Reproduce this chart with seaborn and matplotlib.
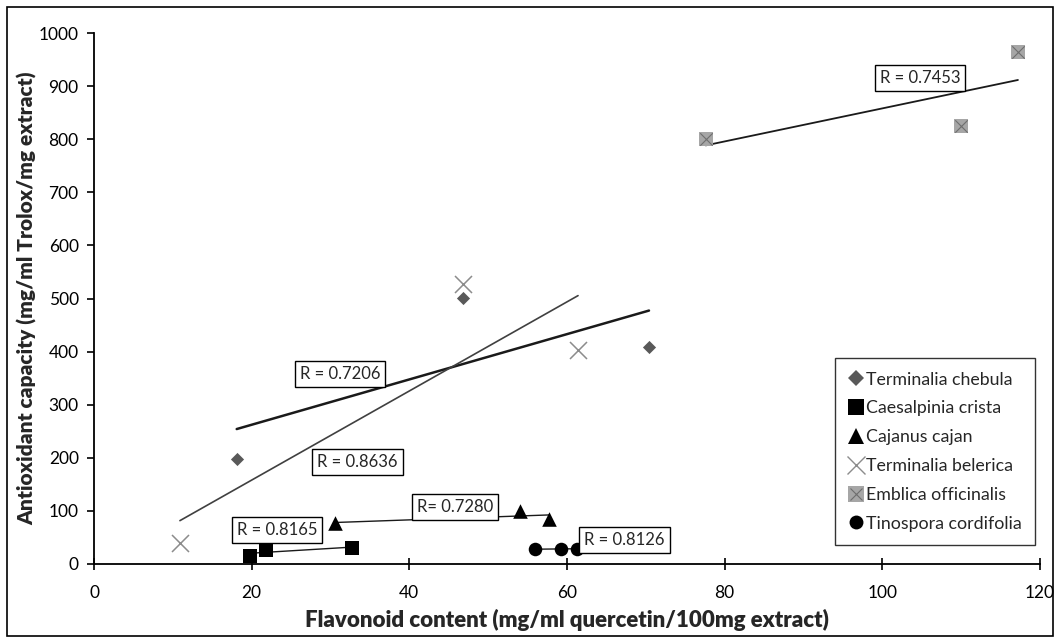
import matplotlib
matplotlib.use("Agg")
import matplotlib.pyplot as plt
import seaborn as sns
import pandas as pd
from matplotlib.lines import Line2D
from matplotlib.patches import Rectangle

sns.set_style("white")
plt.rcParams['font.family'] = ['Lato', 'DejaVu Sans']

# ---- data ----
species = ["Terminalia chebula", "Caesalpinia crista", "Cajanus cajan",
           "Terminalia belerica", "Emblica officinalis", "Tinospora cordifolia"]
chebula_x = [18.1, 46.8, 70.4]
chebula_y = [198, 501, 409]
caesalpinia_x = [19.8, 21.8, 32.7]
caesalpinia_y = [16, 27, 31]
cajanus_x = [30.6, 54.0, 57.7]
cajanus_y = [77, 99, 85]
belerica_x = [10.9, 46.8, 61.4]
belerica_y = [40, 527, 403]
emblica_x = [77.6, 110.0, 117.2]
emblica_y = [800, 825, 964]
tinospora_x = [55.9, 59.3, 61.3]
tinospora_y = [28, 28, 29]

r_labels = ["R = 0.7206", "R = 0.8165", "R= 0.7280", "R = 0.8636", "R = 0.7453", "R = 0.8126"]
r_label_x = [31.2, 23.2, 45.8, 33.4, 104.8, 67.3]
r_label_y = [358, 64, 107, 192, 915, 45]

x_ticks = [0, 20, 40, 60, 80, 100, 120]
y_ticks = [0, 100, 200, 300, 400, 500, 600, 700, 800, 900, 1000]

xs = [chebula_x, caesalpinia_x, cajanus_x, belerica_x, emblica_x, tinospora_x]
ys = [chebula_y, caesalpinia_y, cajanus_y, belerica_y, emblica_y, tinospora_y]
df = pd.concat([pd.DataFrame({"x": x, "y": y, "species": s}) for x, y, s in zip(xs, ys, species)],
               ignore_index=True)

# ---- styles ----
marker_style = {
    "Terminalia chebula": dict(marker="D", s=45, color="#595959", edgecolor="#595959", linewidth=0),
    "Caesalpinia crista": dict(marker="s", s=100, color="black", edgecolor="black", linewidth=0),
    "Cajanus cajan": dict(marker="^", s=110, color="black", edgecolor="black", linewidth=0),
    "Terminalia belerica": dict(marker="x", s=150, color="#8c8c8c", linewidth=1.1),
    "Emblica officinalis": dict(marker="s", s=110, color="#a6a6a6", edgecolor="#a6a6a6", linewidth=0),
    "Tinospora cordifolia": dict(marker="o", s=95, color="black", edgecolor="black", linewidth=0),
}
line_style = {
    "Terminalia chebula": dict(color="#1a1a1a", lw=1.8),
    "Caesalpinia crista": dict(color="#1a1a1a", lw=1.0),
    "Cajanus cajan": dict(color="#1a1a1a", lw=1.0),
    "Terminalia belerica": dict(color="#404040", lw=1.2),
    "Emblica officinalis": dict(color="#1a1a1a", lw=1.3),
    "Tinospora cordifolia": dict(color="#1a1a1a", lw=1.0),
}

fig = plt.figure(figsize=(10.57, 6.39), dpi=100)
ax = fig.add_axes([94 / 1057, 1 - 564 / 639, (1040 - 94) / 1057, (564 - 33) / 639])

for sp in species:
    sub = df[df["species"] == sp]
    sns.regplot(data=sub, x="x", y="y", scatter=False, ci=None, truncate=True,
                ax=ax, line_kws=line_style[sp])
for sp in species:
    sub = df[df["species"] == sp]
    sns.scatterplot(data=sub, x="x", y="y", ax=ax, zorder=3, legend=False, **marker_style[sp])
    if sp == "Emblica officinalis":
        sns.scatterplot(data=sub, x="x", y="y", ax=ax, zorder=4, legend=False,
                        marker="x", s=80, color="#6e6e6e", linewidth=0.8)

for t, tx, ty in zip(r_labels, r_label_x, r_label_y):
    ax.text(tx, ty, t, ha="center", va="center", fontsize=12, zorder=5,
            bbox=dict(boxstyle="square,pad=0.3", facecolor="white", edgecolor="black", linewidth=1))

ax.set_xlim(0, 120)
ax.set_ylim(0, 1000)
ax.set_xticks(x_ticks)
ax.set_yticks(y_ticks)
ax.set_xticklabels([str(v) for v in x_ticks], fontsize=12.5)
ax.set_yticklabels([str(v) for v in y_ticks], fontsize=12.5)
ax.tick_params(axis="x", direction="inout", length=8, width=1.2, pad=11, colors="black")
ax.tick_params(axis="y", direction="out", length=5, width=1.2, pad=6, colors="black")
ax.tick_params(bottom=True, left=True)
for s in ["top", "right"]:
    ax.spines[s].set_visible(False)
for s in ["left", "bottom"]:
    ax.spines[s].set_color("black")
    ax.spines[s].set_linewidth(1.3)

ax.set_xlabel("Flavonoid content (mg/ml quercetin/100mg extract)", fontsize=16,
              fontweight="heavy", labelpad=6)
ax.set_ylabel("Antioxidant capacity (mg/ml Trolox/mg extract)", fontsize=15,
              fontweight="heavy", labelpad=1)

# legend
handles = []
for sp in species:
    st = marker_style[sp]
    msize = {"D": 8, "s": 11, "^": 11, "x": 13, "o": 10}[st["marker"]]
    h = Line2D([], [], linestyle="none", marker=st["marker"], markersize=msize,
               color=st["color"], markeredgecolor=st["color"],
               markeredgewidth=1.0 if st["marker"] == "x" else 0)
    if sp == "Emblica officinalis":
        h2 = Line2D([], [], linestyle="none", marker="x", markersize=8, color="#6e6e6e",
                    markeredgewidth=0.8)
        h = (h, h2)
    handles.append(h)
leg = ax.legend(handles, species, loc="lower right", bbox_to_anchor=(0.995, 0.036),
                fontsize=12.8, frameon=True, fancybox=False, edgecolor="black",
                handlelength=0.8, handletextpad=0.2, labelspacing=0.72, borderpad=0.75,
                borderaxespad=0)
leg.get_frame().set_linewidth(1.0)

fig.patches.append(Rectangle((7 / 1057, 3 / 639), 1046 / 1057, 629 / 639, transform=fig.transFigure,
                             fill=False, edgecolor="black", linewidth=1.2))

fig.savefig("out.png", dpi=100)
